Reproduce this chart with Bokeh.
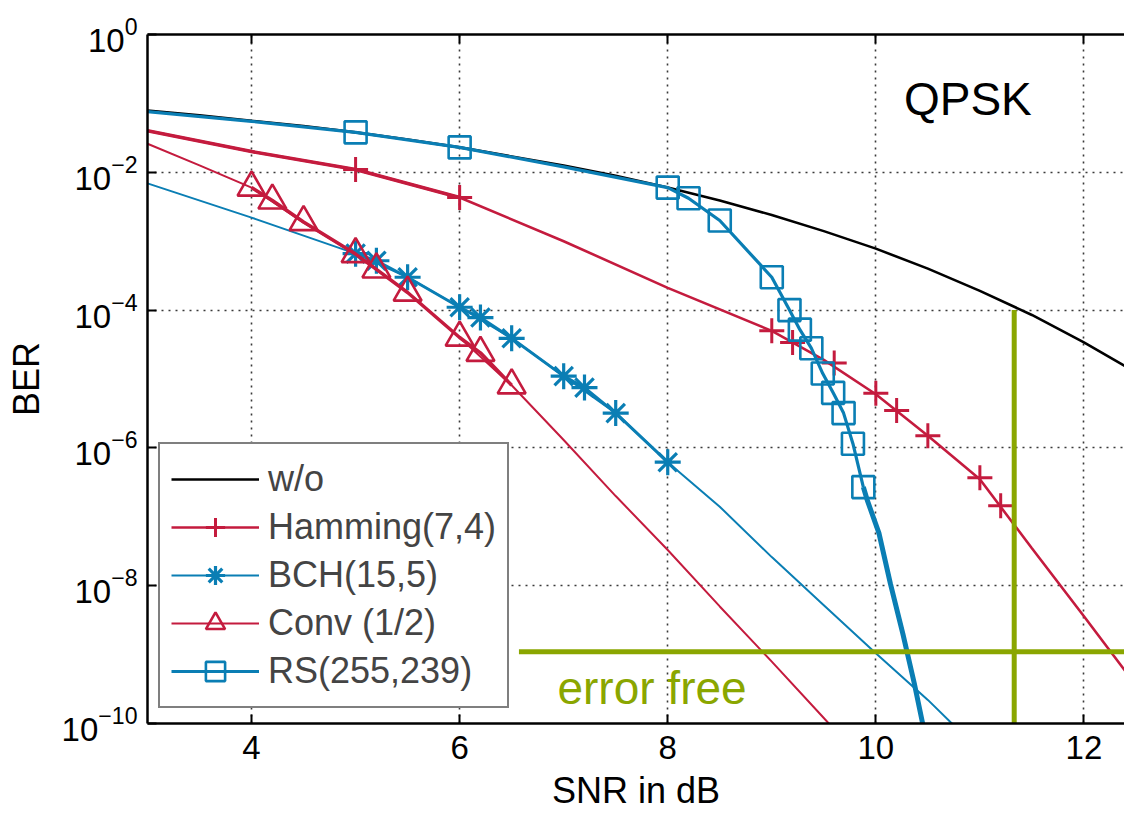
from bokeh.plotting import figure
from bokeh.models import Range1d, FixedTicker, LinearAxis, Legend, LegendItem, Label
from bokeh.embed import file_html
from bokeh.resources import INLINE

# ---------------- data ----------------
x_ticks = [4, 6, 8, 10, 12]
y_ticks = [1e-10, 1e-8, 1e-6, 1e-4, 1e-2, 1]

# uncoded QPSK
wo_snr = [3, 3.5, 4, 4.5, 5, 5.5, 6, 6.5, 7, 7.5, 8, 8.5, 9, 9.5, 10, 10.5, 11, 11.5, 12, 12.5]
wo_ber = [7.9e-2, 6.7e-2, 5.6e-2, 4.7e-2, 3.8e-2, 3.0e-2, 2.3e-2, 1.7e-2, 1.25e-2, 8.9e-3,
          6.0e-3, 3.9e-3, 2.4e-3, 1.4e-3, 7.8e-4, 4.0e-4, 1.9e-4, 8.5e-5, 3.4e-5, 1.25e-5]

# Hamming(7,4)
ham_line_snr = [3, 4, 5, 6, 7, 8, 9, 9.5, 10, 10.5, 11, 11.5, 12, 12.5]
ham_line_ber = [4.0e-2, 2.0e-2, 1.1e-2, 4.3e-3, 1.0e-3, 2.1e-4, 5.0e-5, 1.9e-5, 6.0e-6,
                1.5e-6, 3.5e-7, 3.5e-8, 3.6e-9, 3.6e-10]
ham_snr = [5, 6, 9, 9.2, 9.6, 10, 10.2, 10.5, 11, 11.2]
ham_ber = [1.1e-2, 4.3e-3, 5.0e-5, 3.4e-5, 1.7e-5, 6.2e-6, 3.5e-6, 1.5e-6, 3.7e-7, 1.45e-7]

# BCH(15,5)
bch_line_snr = [3, 4, 5, 5.5, 6, 6.5, 7, 7.5, 8, 8.5, 9, 9.5, 10, 10.5, 11]
bch_line_ber = [6.9e-3, 2.2e-3, 6.6e-4, 3.0e-4, 1.1e-4, 3.9e-5, 1.1e-5, 3.2e-6, 6.2e-7,
                1.4e-7, 2.6e-8, 5.2e-9, 1.05e-9, 2.2e-10, 4.0e-11]
bch_snr = [5, 5.2, 5.5, 6, 6.2, 6.5, 7, 7.2, 7.5, 8]
bch_ber = [6.6e-4, 5.2e-4, 3.0e-4, 1.1e-4, 7.8e-5, 3.9e-5, 1.1e-5, 7.5e-6, 3.2e-6, 6.2e-7]

# Convolutional code (1/2)
conv_line_snr = [3, 3.5, 4, 4.5, 5, 5.5, 6, 6.5, 7, 7.5, 8, 8.5, 9, 9.5, 10]
conv_line_ber = [2.6e-2, 1.26e-2, 6.0e-3, 1.86e-3, 6.5e-4, 1.8e-4, 4.0e-5, 8.1e-6, 1.3e-6,
                 2.0e-7, 3.3e-8, 5.0e-9, 7.9e-10, 1.2e-10, 1.8e-11]
conv_snr = [4, 4.2, 4.5, 5, 5.2, 5.5, 6, 6.2, 6.5]
conv_ber = [6.0e-3, 3.9e-3, 1.9e-3, 6.5e-4, 3.9e-4, 1.8e-4, 4.0e-5, 2.4e-5, 8.1e-6]

# RS(255,239)
rs_line_snr = [3, 4, 5, 6, 7, 8, 8.2, 8.5, 9.0, 9.17, 9.27, 9.38, 9.49, 9.59, 9.69, 9.78, 9.88]
rs_line_ber = [7.6e-2, 5.5e-2, 3.8e-2, 2.3e-2, 1.2e-2, 6.0e-3, 4.2e-3, 2.0e-3, 3.0e-4, 1.0e-4,
               5.2e-5, 2.8e-5, 1.2e-5, 6.3e-6, 3.2e-6, 1.15e-6, 2.7e-7]
rs_snr = [5, 6, 8, 8.2, 8.5, 9.0, 9.17, 9.27, 9.38, 9.49, 9.59, 9.69, 9.78, 9.88]
rs_ber = [3.8e-2, 2.3e-2, 6.0e-3, 4.2e-3, 2.0e-3, 3.0e-4, 1.0e-4, 5.2e-5, 2.8e-5, 1.2e-5,
          6.3e-6, 3.2e-6, 1.15e-6, 2.7e-7]
rs_tail_snr = [9.88, 9.92, 10.03, 10.14, 10.26, 10.37, 10.45, 10.52]
rs_tail_ber = [2.7e-7, 1.7e-7, 5.8e-8, 1.07e-8, 2.0e-9, 3.8e-10, 1.0e-10, 3.2e-11]

# "error free" threshold
ef_h_snr = [6.57, 12.6]
ef_h_ber = [1.1e-9, 1.1e-9]
ef_v_snr = [11.33, 11.33]
ef_v_ber = [1e-4, 1e-10]

# ---------------- styling ----------------
FONT = "Liberation Sans"
RED = "#C41B3E"
BLUE = "#0A7EB4"
GREEN = "#8AA600"

p = figure(width=1124, height=813, output_backend="svg", toolbar_location=None,
           x_range=Range1d(3, 12.39), y_range=Range1d(1e-10, 1), y_axis_type="log",
           min_border_left=147, min_border_right=0, min_border_top=34, min_border_bottom=90)
p.outline_line_color = None
p.background_fill_color = "white"
p.border_fill_color = "white"

xt = FixedTicker(ticks=x_ticks)
yt = FixedTicker(ticks=y_ticks)
p.xaxis.ticker = xt
p.yaxis.ticker = yt
p.xgrid.ticker = xt
p.ygrid.ticker = yt

for ax in (p.xaxis[0], p.yaxis[0]):
    ax.axis_line_width = 2.5
    ax.axis_line_color = "black"
    ax.major_tick_in = 9
    ax.major_tick_out = 0
    ax.major_tick_line_width = 2
    ax.minor_tick_line_color = None
    ax.major_label_text_font = FONT
    ax.major_label_text_font_size = "33px"
    ax.major_label_text_color = "black"
    ax.axis_label_text_font = FONT
    ax.axis_label_text_font_size = "36px"
    ax.axis_label_text_font_style = "normal"
    ax.axis_label_text_color = "black"

p.xaxis.major_label_standoff = 12
p.xaxis.axis_label = "SNR in dB"
p.xaxis.axis_label_standoff = 8
p.xaxis.axis_label_text_line_height = 0.75
p.yaxis.major_label_standoff = 10
p.yaxis.axis_label = "BER"
p.yaxis.axis_label_standoff = 12

top = LinearAxis(ticker=xt, major_label_text_font_size="1px", major_label_text_color=None,
                 major_tick_in=9, major_tick_out=0, major_label_standoff=0,
                 major_tick_line_width=2, axis_line_width=2.5, minor_tick_line_color=None)
p.add_layout(top, "above")

for g in (p.xgrid[0], p.ygrid[0]):
    g.grid_line_color = "#3a3a3a"
    g.grid_line_width = 1.6
    g.grid_line_dash = "2 5"

# ---------------- curves ----------------
r_wo = p.line(wo_snr, wo_ber, line_color="black", line_width=2.6)

r_ham_l = p.line(ham_line_snr, ham_line_ber, line_color=RED, line_width=2.6)
r_ham_h = p.line(ham_line_snr[:4], ham_line_ber[:4], line_color=RED, line_width=3.6)
r_ham_m = p.scatter(ham_snr, ham_ber, marker="cross", size=25, line_color=RED, line_width=3)

r_bch_l = p.line(bch_line_snr, bch_line_ber, line_color=BLUE, line_width=2)
r_bch_s = p.line(bch_snr, bch_ber, line_color=BLUE, line_width=3)
r_bch_m = p.scatter(bch_snr, bch_ber, marker="asterisk", size=26, line_color=BLUE, line_width=3.2)

r_conv_l = p.line(conv_line_snr, conv_line_ber, line_color=RED, line_width=2)
r_conv_s = p.line(conv_snr, conv_ber, line_color=RED, line_width=3.5)
r_conv_m = p.scatter(conv_snr, conv_ber, marker="triangle", size=28, line_color=RED,
                     line_width=2.6, fill_color=None)

r_rs_l = p.line(rs_line_snr, rs_line_ber, line_color=BLUE, line_width=3.2)
r_rs_t = p.line(rs_tail_snr, rs_tail_ber, line_color=BLUE, line_width=5)
r_rs_m = p.scatter(rs_snr, rs_ber, marker="square", size=22, line_color=BLUE,
                   line_width=2.6, fill_color=None)

p.line(ef_h_snr, ef_h_ber, line_color=GREEN, line_width=5)
p.line(ef_v_snr, ef_v_ber, line_color=GREEN, line_width=5)

# ---------------- texts ----------------
p.add_layout(Label(x=10.27, y=0.116, text="QPSK", text_font=FONT, text_font_size="46px",
                   text_color="black", text_baseline="middle", text_align="left"))
p.add_layout(Label(x=6.94, y=3.3e-10, text="error free", text_font=FONT, text_font_size="46px",
                   text_color=GREEN, text_baseline="middle", text_align="left"))

legend = Legend(items=[
    LegendItem(label="w/o", renderers=[r_wo]),
    LegendItem(label="Hamming(7,4)", renderers=[r_ham_l, r_ham_m]),
    LegendItem(label="BCH(15,5)", renderers=[r_bch_l, r_bch_m]),
    LegendItem(label="Conv (1/2)", renderers=[r_conv_l, r_conv_m]),
    LegendItem(label="RS(255,239)", renderers=[r_rs_l, r_rs_m]),
], location=(11, 15), margin=0)
legend.label_text_font = FONT
legend.label_text_font_size = "36px"
legend.glyph_width = 88
legend.glyph_height = 48
legend.label_height = 48
legend.spacing = 0
legend.padding = 11
legend.label_standoff = 9
legend.border_line_color = "black"
legend.border_line_width = 2.5
legend.background_fill_color = "white"
legend.background_fill_alpha = 1
p.add_layout(legend)

open("out.html", "w").write(file_html(p, INLINE))
